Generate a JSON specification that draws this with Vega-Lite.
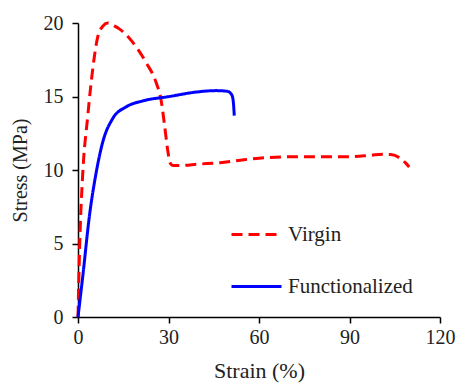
{
  "$schema": "https://vega.github.io/schema/vega-lite/v6.json",
  "width": 362,
  "height": 294,
  "autosize": "none",
  "padding": {"left": 78, "top": 23, "right": 21, "bottom": 67},
  "background": "white",
  "config": {
    "view": {"stroke": null},
    "font": "Liberation Serif",
    "axis": {
      "grid": false,
      "domainColor": "#000000",
      "tickColor": "#000000",
      "labelColor": "#222222",
      "titleColor": "#222222",
      "labelFont": "Liberation Serif",
      "titleFont": "Liberation Serif",
      "labelFontSize": 20,
      "titleFontSize": 21,
      "titleFontWeight": "normal",
      "labelFlush": false,
      "tickSize": 6,
      "domainWidth": 1.5,
      "tickWidth": 1.5
    },
    "legend": {
      "labelFont": "Liberation Serif",
      "labelFontSize": 21,
      "labelColor": "#222222"
    }
  },
  "data": {
    "values": [
      {"series": "Virgin", "strain": 0, "stress": 0},
      {"series": "Virgin", "strain": 0.5, "stress": 4.5},
      {"series": "Virgin", "strain": 1.5, "stress": 9.5},
      {"series": "Virgin", "strain": 3.2, "stress": 13.6},
      {"series": "Virgin", "strain": 4.9, "stress": 16.9},
      {"series": "Virgin", "strain": 6.6, "stress": 19.1},
      {"series": "Virgin", "strain": 8.3, "stress": 19.8},
      {"series": "Virgin", "strain": 9.9, "stress": 20.0},
      {"series": "Virgin", "strain": 12, "stress": 19.8},
      {"series": "Virgin", "strain": 13.7, "stress": 19.6},
      {"series": "Virgin", "strain": 18.1, "stress": 18.7},
      {"series": "Virgin", "strain": 22.6, "stress": 17.3},
      {"series": "Virgin", "strain": 25.9, "stress": 15.95},
      {"series": "Virgin", "strain": 27.5, "stress": 14.8},
      {"series": "Virgin", "strain": 28.6, "stress": 13.2},
      {"series": "Virgin", "strain": 29.7, "stress": 11.4},
      {"series": "Virgin", "strain": 30.5, "stress": 10.5},
      {"series": "Virgin", "strain": 31.5, "stress": 10.3},
      {"series": "Virgin", "strain": 33.6, "stress": 10.3},
      {"series": "Virgin", "strain": 40, "stress": 10.4},
      {"series": "Virgin", "strain": 47, "stress": 10.5},
      {"series": "Virgin", "strain": 55, "stress": 10.7},
      {"series": "Virgin", "strain": 63, "stress": 10.85},
      {"series": "Virgin", "strain": 73, "stress": 10.9},
      {"series": "Virgin", "strain": 90, "stress": 10.9},
      {"series": "Virgin", "strain": 97, "stress": 11.0},
      {"series": "Virgin", "strain": 101, "stress": 11.07},
      {"series": "Virgin", "strain": 103.7, "stress": 11.05},
      {"series": "Virgin", "strain": 106.5, "stress": 10.84},
      {"series": "Virgin", "strain": 108.5, "stress": 10.5},
      {"series": "Virgin", "strain": 109.8, "stress": 10.2},
      {"series": "Functionalized", "strain": 0, "stress": 0},
      {"series": "Functionalized", "strain": 1.6, "stress": 2.8},
      {"series": "Functionalized", "strain": 3.8, "stress": 6.9},
      {"series": "Functionalized", "strain": 6.0, "stress": 9.8},
      {"series": "Functionalized", "strain": 8.2, "stress": 11.9},
      {"series": "Functionalized", "strain": 11.5, "stress": 13.5},
      {"series": "Functionalized", "strain": 16, "stress": 14.3},
      {"series": "Functionalized", "strain": 21.5, "stress": 14.7},
      {"series": "Functionalized", "strain": 30.3, "stress": 15.0},
      {"series": "Functionalized", "strain": 39.1, "stress": 15.3},
      {"series": "Functionalized", "strain": 45.8, "stress": 15.4},
      {"series": "Functionalized", "strain": 49.6, "stress": 15.35},
      {"series": "Functionalized", "strain": 51.0, "stress": 15.1},
      {"series": "Functionalized", "strain": 51.5, "stress": 14.6},
      {"series": "Functionalized", "strain": 51.8, "stress": 13.7}
    ]
  },
  "mark": {"type": "line", "strokeWidth": 3, "interpolate": "monotone"},
  "encoding": {
    "x": {
      "field": "strain", "type": "quantitative", "title": "Strain (%)",
      "scale": {"domain": [0, 120], "nice": false},
      "axis": {"values": [0, 30, 60, 90, 120], "labelPadding": 4, "titlePadding": 13, "titleFontSize": 22}
    },
    "y": {
      "field": "stress", "type": "quantitative", "title": "Stress (MPa)",
      "scale": {"domain": [0, 20], "nice": false},
      "axis": {"values": [0, 5, 10, 15, 20], "labelPadding": 9, "titlePadding": 13, "titleFontSize": 20}
    },
    "color": {
      "field": "series", "type": "nominal",
      "scale": {"domain": ["Virgin", "Functionalized"], "range": ["#FF0000", "#0000FF"]},
      "legend": {
        "title": null, "orient": "none", "legendX": 152, "legendY": 185,
        "symbolType": "stroke", "symbolSize": 2500, "symbolStrokeWidth": 3,
        "labelOffset": 5, "rowPadding": 15
      }
    },
    "strokeDash": {
      "field": "series", "type": "nominal",
      "scale": {"domain": ["Virgin", "Functionalized"], "range": [[11, 6], [1, 0]]},
      "legend": {
        "title": null, "orient": "none", "legendX": 152, "legendY": 185,
        "symbolType": "stroke", "symbolSize": 2500, "symbolStrokeWidth": 3,
        "labelOffset": 5, "rowPadding": 15
      }
    }
  }
}
